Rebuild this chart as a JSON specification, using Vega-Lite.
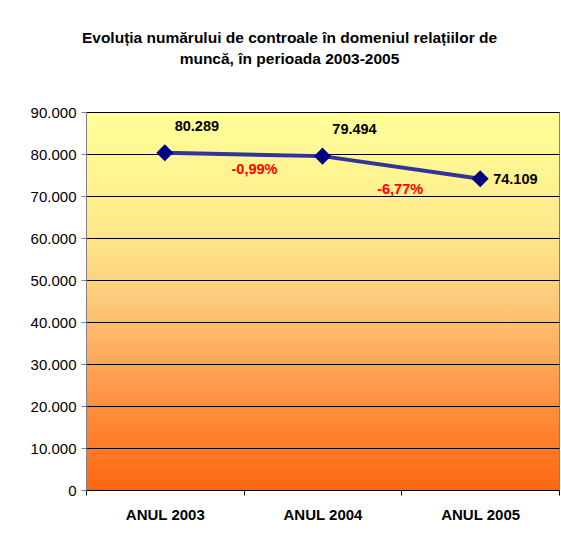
{
  "$schema": "https://vega.github.io/schema/vega-lite/v6.json",
  "width": 473,
  "height": 378,
  "autosize": {"type": "none"},
  "padding": {"left": 86, "top": 112, "right": 2, "bottom": 45},
  "background": "white",
  "config": {
    "locale": {"number": {"decimal": ",", "thousands": ".", "grouping": [3], "currency": ["", ""]}},
    "font": "Liberation Sans",
    "view": {
      "stroke": "#808080",
      "strokeWidth": 1,
      "fill": {
        "gradient": "linear", "x1": 0, "y1": 0, "x2": 0, "y2": 1,
        "stops": [
          {"offset": 0, "color": "#FFFF99"},
          {"offset": 0.3, "color": "#FFEA8C"},
          {"offset": 0.5, "color": "#FDC97A"},
          {"offset": 0.75, "color": "#FF9445"},
          {"offset": 1, "color": "#FF6610"}
        ]
      }
    }
  },
  "title": {
    "text": ["Evoluția numărului de controale în domeniul relațiilor de", "muncă, în perioada 2003-2005"],
    "font": "Liberation Sans",
    "fontSize": 15.5,
    "fontWeight": "bold",
    "color": "black",
    "anchor": "middle",
    "dx": -33,
    "offset": 38,
    "lineHeight": 21
  },
  "data": {
    "values": [
      {"an": "ANUL 2003", "v": 80289, "pct": ""},
      {"an": "ANUL 2004", "v": 79494, "pct": "-0,99%"},
      {"an": "ANUL 2005", "v": 74109, "pct": "-6,77%"}
    ]
  },
  "encoding": {
    "x": {
      "field": "an", "type": "nominal", "sort": null,
      "scale": {"paddingInner": 0, "paddingOuter": 0},
      "axis": {
        "title": null, "labelAngle": 0, "tickBand": "extent",
        "labelFontSize": 15, "labelFontWeight": "bold", "labelColor": "black",
        "labelPadding": 12, "tickSize": 5, "tickColor": "black", "domainColor": "black",
        "grid": false
      }
    },
    "y": {
      "field": "v", "type": "quantitative",
      "scale": {"domain": [0, 90000], "nice": false},
      "axis": {
        "title": null, "values": [0, 10000, 20000, 30000, 40000, 50000, 60000, 70000, 80000, 90000],
        "format": ",d", "labelFontSize": 15, "labelColor": "black", "labelPadding": 5,
        "tickSize": 5, "tickColor": "#808080", "domainColor": "#808080",
        "grid": true, "gridColor": "black", "gridWidth": 1
      }
    }
  },
  "layer": [
    {"mark": {"type": "line", "color": "#333399", "strokeWidth": 4}},
    {"mark": {"type": "point", "shape": "diamond", "filled": true, "fill": "#000080", "opacity": 1, "size": 290}},
    {
      "transform": [{"filter": "datum.an !== 'ANUL 2005'"}],
      "mark": {"type": "text", "font": "Liberation Sans", "fontSize": 14.5, "fontWeight": "bold", "color": "black", "dx": 32, "dy": -26},
      "encoding": {"text": {"field": "v", "type": "quantitative", "format": ",d"}}
    },
    {
      "transform": [{"filter": "datum.an === 'ANUL 2005'"}],
      "mark": {"type": "text", "font": "Liberation Sans", "fontSize": 14.5, "fontWeight": "bold", "color": "black", "align": "left", "dx": 13, "dy": 1},
      "encoding": {"text": {"field": "v", "type": "quantitative", "format": ",d"}}
    },
    {
      "transform": [{"filter": "datum.an === 'ANUL 2004'"}],
      "mark": {"type": "text", "font": "Liberation Sans", "fontSize": 14.5, "fontWeight": "bold", "color": "#FF0000", "dx": -68, "dy": 14},
      "encoding": {"text": {"field": "pct"}}
    },
    {
      "transform": [{"filter": "datum.an === 'ANUL 2005'"}],
      "mark": {"type": "text", "font": "Liberation Sans", "fontSize": 14.5, "fontWeight": "bold", "color": "#FF0000", "dx": -80, "dy": 11},
      "encoding": {"text": {"field": "pct"}}
    }
  ]
}
